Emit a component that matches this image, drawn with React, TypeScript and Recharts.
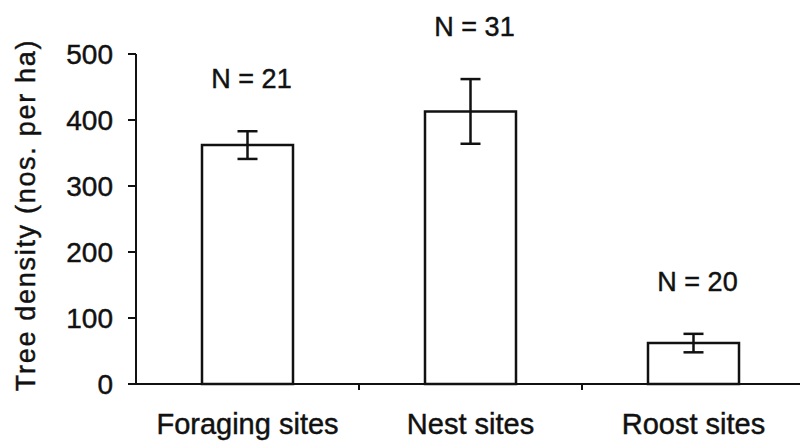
import { BarChart, Bar, XAxis, YAxis, ErrorBar, LabelList } from 'recharts'

const categories = ['Foraging sites', 'Nest sites', 'Roost sites']
const meanDensity = [362, 413, 62]
const densityError = [21, 49, 14]
const sampleSizes = [21, 31, 20]
const yTicks = [0, 100, 200, 300, 400, 500]

const data = categories.map((site, i) => ({
  site,
  density: meanDensity[i],
  err: densityError[i],
  n: sampleSizes[i],
}))

const FONT = '"Liberation Sans", Arial, Helvetica, sans-serif'
const INK = '#111111'
// scanned print looks a bit heavier than plain regular weight
const HEAVY = { stroke: INK, strokeWidth: 0.45 }

// category label plus a small tick at the right edge of each band
function SiteTick(props: any) {
  const { x, y, payload } = props
  const half = payload.offset ?? 0
  return (
    <g>
      <line x1={x + half} x2={x + half} y1={y} y2={y + 6} stroke={INK} strokeWidth={2} />
      <text x={x} y={y + 50} textAnchor="middle" fontSize={29} fontFamily={FONT} fill={INK} {...HEAVY}>
        {payload.value}
      </text>
    </g>
  )
}

// "N = .." placed above the error bar
function SampleLabel(props: any) {
  const { x, y, width, height, value, index } = props
  const errPx = height > 0 ? (densityError[index] * height) / meanDensity[index] : 0
  return (
    <text
      x={x + width / 2 + 4}
      y={y - errPx - 43}
      textAnchor="middle"
      fontSize={27}
      fontFamily={FONT}
      fill={INK}
      {...HEAVY}
    >
      {`N = ${value}`}
    </text>
  )
}

function YTitle(props: any) {
  const { viewBox } = props
  const cx = 35
  const cy = viewBox.y + viewBox.height / 2 - 4
  return (
    <text
      x={cx}
      y={cy}
      textAnchor="middle"
      transform={`rotate(-90, ${cx}, ${cy})`}
      fontSize={27}
      letterSpacing={1.7}
      fontFamily={FONT}
      fill={INK}
      {...HEAVY}
    >
      Tree density (nos. per ha)
    </text>
  )
}

export default function App() {
  return (
    <div
      style={{
        position: 'absolute',
        left: 0,
        top: 0,
        width: 800,
        height: 443,
        overflow: 'hidden',
        background: '#fff',
      }}
    >
      <BarChart
        width={820}
        height={443}
        data={data}
        margin={{ top: 54, right: 15, bottom: 0, left: 0 }}
      >
        <XAxis
          dataKey="site"
          height={59}
          axisLine={{ stroke: INK, strokeWidth: 2 }}
          tickLine={false}
          tickSize={0}
          tickMargin={0}
          tick={<SiteTick />}
          interval={0}
        />
        <YAxis
          width={136}
          domain={[0, 500]}
          ticks={yTicks}
          axisLine={{ stroke: INK, strokeWidth: 2 }}
          tickLine={{ stroke: INK, strokeWidth: 2 }}
          tickSize={8}
          tickMargin={15}
          tick={{ fontSize: 28, fontFamily: FONT, fill: INK, ...HEAVY }}
          label={<YTitle />}
        />
        <Bar
          dataKey="density"
          barSize={91}
          fill="#ffffff"
          stroke={INK}
          strokeWidth={2.5}
          isAnimationActive={false}
        >
          <ErrorBar dataKey="err" width={10} stroke={INK} strokeWidth={2.5} direction="y" />
          <LabelList dataKey="n" content={<SampleLabel />} />
        </Bar>
      </BarChart>
    </div>
  )
}
